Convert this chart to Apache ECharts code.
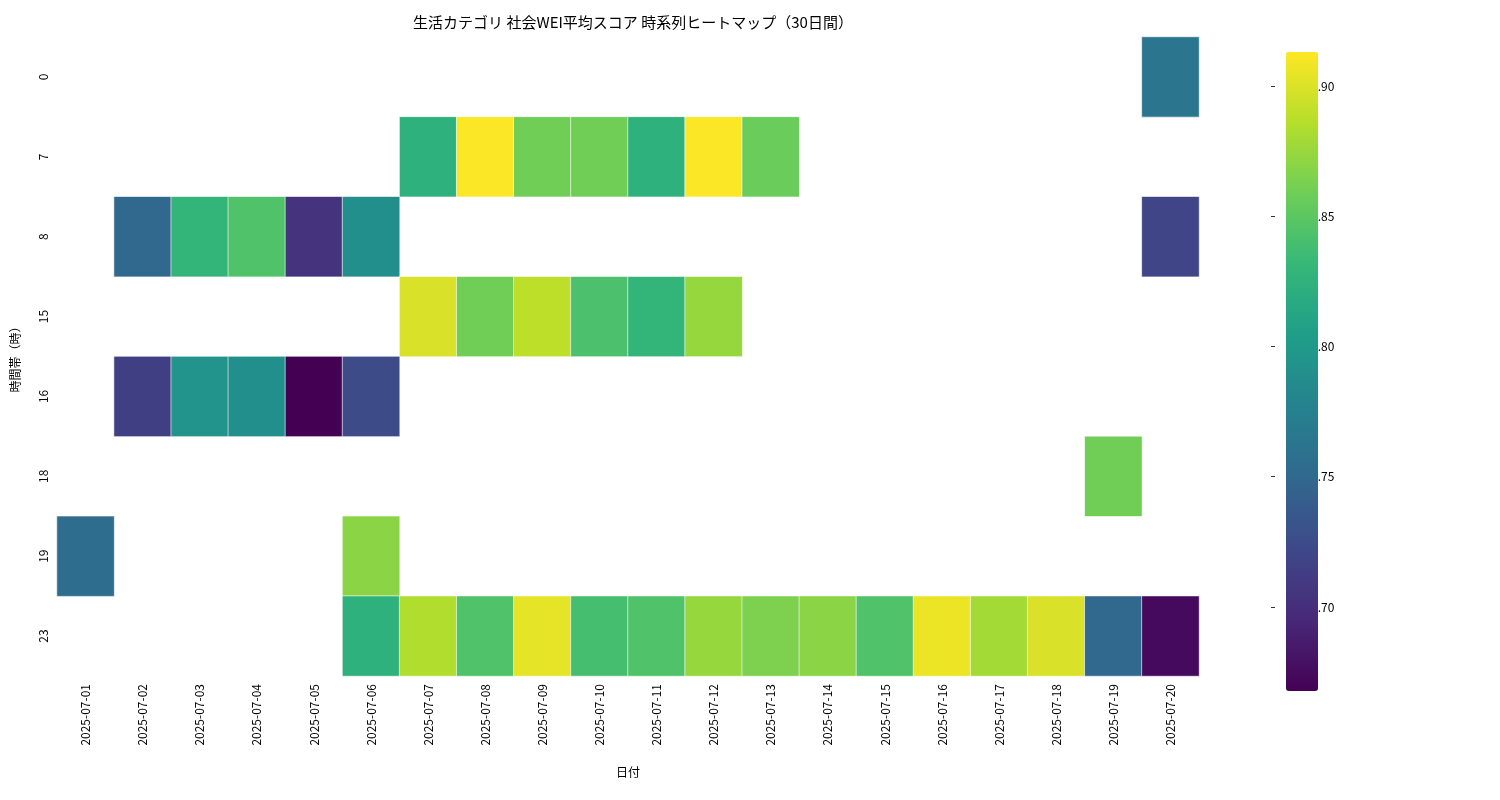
<!DOCTYPE html>
<html><head><meta charset="utf-8">
<script src="https://cdn.jsdelivr.net/npm/echarts@6/dist/echarts.min.js"></script>
<style>html,body{margin:0;background:#fff}#c{width:1500px;height:800px}</style>
</head><body><div id="c"></div>
<script>
const dates = ['2025-07-01','2025-07-02','2025-07-03','2025-07-04','2025-07-05','2025-07-06','2025-07-07','2025-07-08','2025-07-09','2025-07-10','2025-07-11','2025-07-12','2025-07-13','2025-07-14','2025-07-15','2025-07-16','2025-07-17','2025-07-18','2025-07-19','2025-07-20'];
const hours = ['0','7','8','15','16','18','19','23'];
const N = null;
const h0  = [N,N,N,N,N,N,N,N,N,N,N,N,N,N,N,N,N,N,N,0.770];
const h7  = [N,N,N,N,N,N,0.830,0.918,0.865,0.865,0.830,0.918,0.862,N,N,N,N,N,N,N];
const h8  = [N,0.755,0.835,0.850,0.710,0.795,N,N,N,N,N,N,N,N,N,N,N,N,N,0.725];
const h15 = [N,N,N,N,N,N,0.905,0.865,0.895,0.848,0.835,0.880,N,N,N,N,N,N,N,N];
const h16 = [N,0.720,0.800,0.795,0.6735,0.730,N,N,N,N,N,N,N,N,N,N,N,N,N,N];
const h18 = [N,N,N,N,N,N,N,N,N,N,N,N,N,N,N,N,N,N,0.865,N];
const h19 = [0.760,N,N,N,N,0.875,N,N,N,N,N,N,N,N,N,N,N,N,N,N];
const h23 = [N,N,N,N,N,0.830,0.890,0.850,0.910,0.845,0.850,0.880,0.870,0.875,0.850,0.912,0.885,0.905,0.755,0.680];
const rows = [h0,h7,h8,h15,h16,h18,h19,h23];
const vmin = 0.6735, vmax = 0.9188;
const viridis = ['#440154','#482878','#3e4989','#31688e','#26828e','#1f9e89','#35b779','#6ece58','#b5de2b','#fde725'];

const data = [];
rows.forEach((r,yi)=>r.forEach((v,xi)=>{ if(v!==null) data.push([xi,yi,v]); }));

const font = 'Noto Sans CJK JP';
const chart = echarts.init(document.getElementById('c'));
chart.setOption({
  textStyle:{fontFamily:font},
  title:{text:'生活カテゴリ 社会WEI平均スコア 時系列ヒートマップ（30日間）',left:628,top:10,textAlign:'center',
    textStyle:{fontSize:15,fontWeight:'normal',color:'#000',fontFamily:font}},
  grid:[{left:57,right:301,top:37,bottom:124},{left:1271,width:32,top:37,bottom:124}],
  xAxis:[{type:'category',data:dates,gridIndex:0,name:'日付',nameLocation:'middle',nameGap:90,
    nameTextStyle:{fontSize:12,color:'#000'},
    axisLine:{show:false},axisTick:{alignWithLabel:true,length:5,lineStyle:{color:'#333'}},
    axisLabel:{rotate:90,fontSize:12,color:'#000',margin:8},splitLine:{show:false}},
    {type:'value',gridIndex:1,show:false}],
  yAxis:[{type:'category',data:hours,inverse:true,gridIndex:0,name:'時間帯（時）',nameLocation:'middle',nameGap:36,
    nameTextStyle:{fontSize:12,color:'#000'},
    axisLine:{show:false},axisTick:{alignWithLabel:true,length:5,lineStyle:{color:'#333'}},
    axisLabel:{rotate:90,fontSize:12,color:'#000',margin:8},splitLine:{show:false}},
    {type:'value',gridIndex:1,position:'right',min:vmin,max:vmax,splitNumber:5,
    axisLine:{show:false},axisTick:{show:true,length:4,lineStyle:{color:'#333'}},splitLine:{show:false},
    axisLabel:{fontSize:12,color:'#000',margin:8,showMinLabel:false,showMaxLabel:false,
      formatter:v=>(Math.abs(v*20-Math.round(v*20))<1e-6)?v.toFixed(2):''}}],
  visualMap:{type:'continuous',min:vmin,max:vmax,seriesIndex:0,calculable:false,
    left:1271,top:37,itemWidth:32,itemHeight:639,text:['',''],showLabel:false,
    inRange:{color:viridis},textStyle:{color:'transparent'}},
  series:[{type:'heatmap',data:data,xAxisIndex:0,yAxisIndex:0,
    itemStyle:{borderColor:'#fff',borderWidth:0.6},emphasis:{disabled:true}}]
});
</script></body></html>
